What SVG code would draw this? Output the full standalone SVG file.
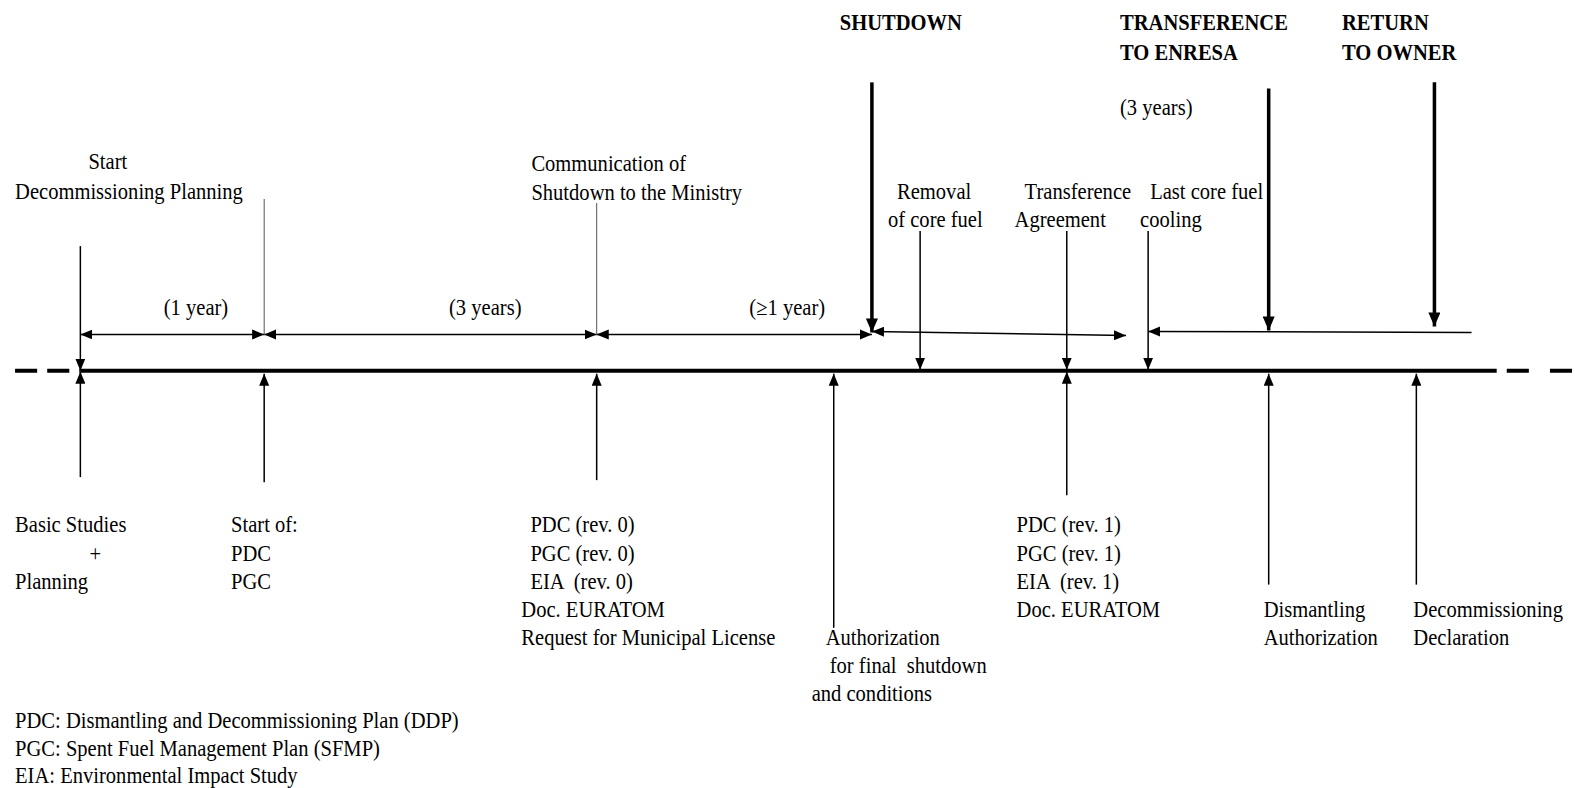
<svg xmlns="http://www.w3.org/2000/svg" width="1575" height="788" viewBox="0 0 1575 788">
<defs>
<style>
text{font-family:"Liberation Serif","Times New Roman",serif;font-size:22.5px;fill:#000}
.b{font-weight:bold}
.ln{stroke:#000;stroke-width:1.5;fill:none}
.thin{stroke:#555;stroke-width:1;fill:none}
.thk{stroke:#000;stroke-width:3.5;fill:none}
.tl{stroke:#000;stroke-width:4;fill:none}
</style>
<marker id="ah" markerWidth="12" markerHeight="10" refX="12" refY="5" orient="auto-start-reverse" markerUnits="userSpaceOnUse">
<path d="M0,0 L12,5 L0,10 Z" fill="#000"/>
</marker>
<marker id="ahb" markerWidth="14" markerHeight="12" refX="14" refY="6" orient="auto" markerUnits="userSpaceOnUse">
<path d="M0,0 L14,6 L0,12 Z" fill="#000"/>
</marker>
</defs>
<g transform="scale(1.0045)">
<g id="timeline">
<line class="tl" x1="80" y1="369" x2="1490" y2="369"/>
<line class="tl" x1="15" y1="369" x2="80" y2="369" stroke-dasharray="22,10"/>
<line class="tl" x1="1500" y1="369" x2="1568" y2="369" stroke-dasharray="22,21"/>
</g>

<g id="connectors">
<line class="ln" x1="80" y1="333" x2="263" y2="333" marker-start="url(#ah)" marker-end="url(#ah)"/>
<line class="ln" x1="263" y1="333" x2="594" y2="333" marker-start="url(#ah)" marker-end="url(#ah)"/>
<line class="ln" x1="594" y1="333" x2="868" y2="333" marker-start="url(#ah)" marker-end="url(#ah)"/>
<line class="ln" x1="868" y1="330" x2="1121" y2="334" marker-start="url(#ah)" marker-end="url(#ah)"/>
<line class="ln" x1="1143" y1="330" x2="1465" y2="331" marker-start="url(#ah)"/>
<line class="thin" x1="263" y1="198" x2="263" y2="333"/>
<line class="thin" x1="594" y1="202" x2="594" y2="333"/>
<line class="ln" x1="80" y1="245" x2="80" y2="369" marker-end="url(#ah)"/>
<line class="ln" x1="916" y1="230" x2="916" y2="368" marker-end="url(#ah)"/>
<line class="ln" x1="1062" y1="230" x2="1062" y2="368" marker-end="url(#ah)"/>
<line class="ln" x1="1143" y1="230" x2="1143" y2="368" marker-end="url(#ah)"/>
<line class="thk" x1="868" y1="82" x2="868" y2="331" marker-end="url(#ahb)"/>
<line class="thk" x1="1263" y1="88" x2="1263" y2="329" marker-end="url(#ahb)"/>
<line class="thk" x1="1428" y1="82" x2="1428" y2="325" marker-end="url(#ahb)"/>
<line class="ln" x1="80" y1="475" x2="80" y2="370" marker-end="url(#ah)"/>
<line class="ln" x1="263" y1="480" x2="263" y2="372" marker-end="url(#ah)"/>
<line class="ln" x1="594" y1="478" x2="594" y2="372" marker-end="url(#ah)"/>
<line class="ln" x1="830" y1="625" x2="830" y2="372" marker-end="url(#ah)"/>
<line class="ln" x1="1062" y1="493" x2="1062" y2="370" marker-end="url(#ah)"/>
<line class="ln" x1="1263" y1="582" x2="1263" y2="372" marker-end="url(#ah)"/>
<line class="ln" x1="1410" y1="582" x2="1410" y2="372" marker-end="url(#ah)"/>
</g>

<g id="duration-labels">
<text transform="translate(163,314) scale(0.91,1)">(1 year)</text>
<text transform="translate(447,314) scale(0.91,1)">(3 years)</text>
<text transform="translate(746,314) scale(0.91,1)">(≥1 year)</text>
<text transform="translate(1115,114) scale(0.91,1)">(3 years)</text>
</g>

<g id="n-start">
<text transform="translate(88,168) scale(0.91,1)">Start</text>
<text transform="translate(15,198) scale(0.91,1)">Decommissioning Planning</text>
</g>
<g id="n-communication">
<text transform="translate(529,170) scale(0.91,1)">Communication of</text>
<text transform="translate(529,199) scale(0.91,1)">Shutdown to the Ministry</text>
</g>
<g id="n-shutdown">
<text class="b" transform="translate(836,30) scale(0.91,1)">SHUTDOWN</text>
</g>
<g id="n-transference">
<text class="b" transform="translate(1115,30) scale(0.91,1)">TRANSFERENCE</text>
<text class="b" transform="translate(1115,60) scale(0.91,1)">TO ENRESA</text>
</g>
<g id="n-return">
<text class="b" transform="translate(1336,30) scale(0.91,1)">RETURN</text>
<text class="b" transform="translate(1336,60) scale(0.91,1)">TO OWNER</text>
</g>
<g id="n-removal">
<text transform="translate(893,198) scale(0.91,1)">Removal</text>
<text transform="translate(884,226) scale(0.91,1)">of core fuel</text>
</g>
<g id="n-agreement">
<text transform="translate(1020,198) scale(0.91,1)">Transference</text>
<text transform="translate(1010,226) scale(0.91,1)">Agreement</text>
</g>
<g id="n-cooling">
<text transform="translate(1145,198) scale(0.91,1)">Last core fuel</text>
<text transform="translate(1135,226) scale(0.91,1)">cooling</text>
</g>

<g id="n-basic">
<text transform="translate(15,530) scale(0.91,1)">Basic Studies</text>
<text transform="translate(89,558) scale(0.91,1)">+</text>
<text transform="translate(15,586) scale(0.91,1)">Planning</text>
</g>
<g id="n-startof">
<text transform="translate(230,530) scale(0.91,1)">Start of:</text>
<text transform="translate(230,558) scale(0.91,1)">PDC</text>
<text transform="translate(230,586) scale(0.91,1)">PGC</text>
</g>
<g id="n-rev0">
<text transform="translate(528,530) scale(0.91,1)">PDC (rev. 0)</text>
<text transform="translate(528,558) scale(0.91,1)">PGC (rev. 0)</text>
<text transform="translate(528,586) scale(0.91,1)" xml:space="preserve">EIA  (rev. 0)</text>
<text transform="translate(519,614) scale(0.91,1)">Doc. EURATOM</text>
<text transform="translate(519,642) scale(0.91,1)">Request for Municipal License</text>
</g>
<g id="n-authorization">
<text transform="translate(822,642) scale(0.91,1)">Authorization</text>
<text transform="translate(826,670) scale(0.91,1)" xml:space="preserve">for final  shutdown</text>
<text transform="translate(808,698) scale(0.91,1)">and conditions</text>
</g>
<g id="n-rev1">
<text transform="translate(1012,530) scale(0.91,1)">PDC (rev. 1)</text>
<text transform="translate(1012,558) scale(0.91,1)">PGC (rev. 1)</text>
<text transform="translate(1012,586) scale(0.91,1)" xml:space="preserve">EIA  (rev. 1)</text>
<text transform="translate(1012,614) scale(0.91,1)">Doc. EURATOM</text>
</g>
<g id="n-dismantling">
<text transform="translate(1258,614) scale(0.91,1)">Dismantling</text>
<text transform="translate(1258,642) scale(0.91,1)">Authorization</text>
</g>
<g id="n-declaration">
<text transform="translate(1407,614) scale(0.91,1)">Decommissioning</text>
<text transform="translate(1407,642) scale(0.91,1)">Declaration</text>
</g>

<g id="legend">
<text transform="translate(15,725) scale(0.91,1)">PDC: Dismantling and Decommissioning Plan (DDP)</text>
<text transform="translate(15,753) scale(0.91,1)">PGC: Spent Fuel Management Plan (SFMP)</text>
<text transform="translate(15,779) scale(0.91,1)">EIA: Environmental Impact Study</text>
</g>
</g>
</svg>
